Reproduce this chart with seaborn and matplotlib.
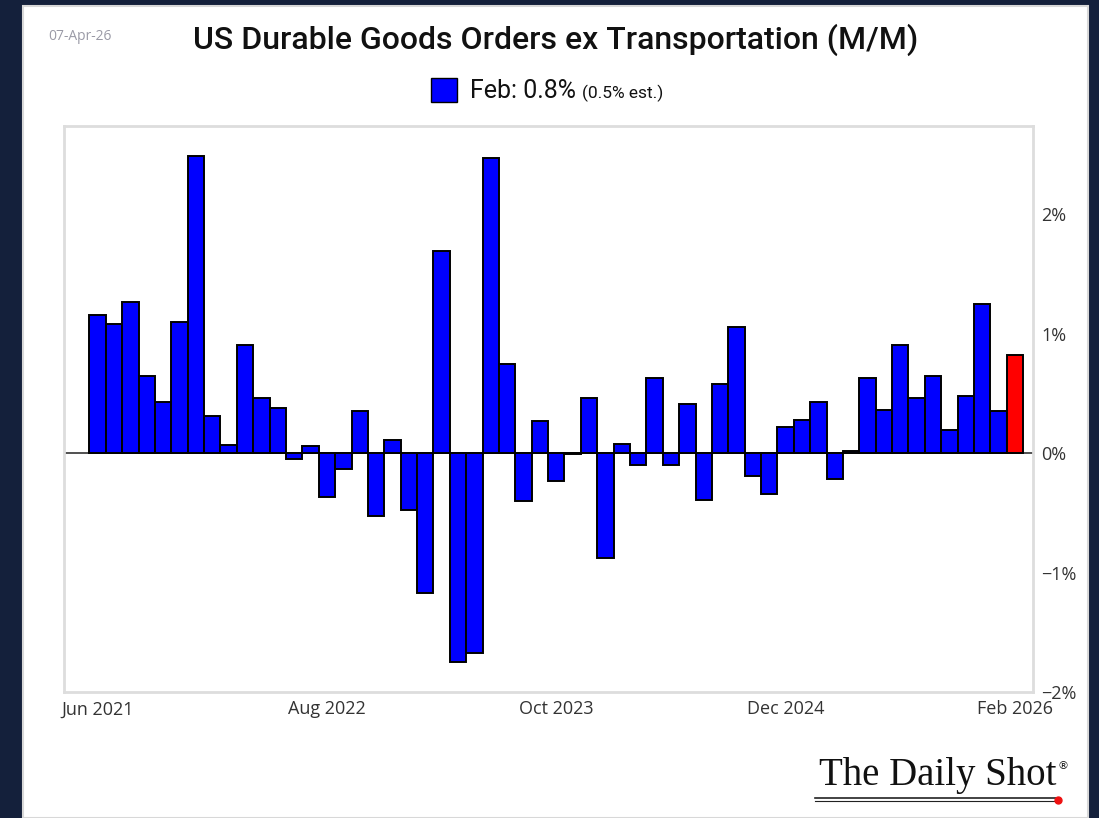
import numpy as np
import pandas as pd
import matplotlib
matplotlib.use("Agg")
import matplotlib.pyplot as plt
import seaborn as sns
from matplotlib.patches import Rectangle

# data (% m/m), Jun 2021 .. Feb 2026
months = pd.date_range("2021-06-01", "2026-02-01", freq="MS")
values = [1.16, 1.08, 1.27, 0.65, 0.43, 1.10, 2.49,
          0.31, 0.07, 0.91, 0.46, 0.38, -0.05, 0.06, -0.37, -0.13, 0.35, -0.53, 0.11,
          -0.48, -1.17, 1.69, -1.75, -1.67, 2.47, 0.75, -0.40, 0.27, -0.23, -0.01, 0.46,
          -0.88, 0.08, -0.10, 0.63, -0.10, 0.41, -0.39, 0.58, 1.06, -0.19, -0.34, 0.22,
          0.28, 0.43, -0.22, 0.02, 0.63, 0.36, 0.91, 0.46, 0.65, 0.19, 0.48, 1.25,
          0.35, 0.82]
tick_months = ["Jun 2021", "Aug 2022", "Oct 2023", "Dec 2024", "Feb 2026"]
y_ticks = [-2, -1, 0, 1, 2]

df = pd.DataFrame({"month": months.strftime("%b %Y"), "value": values})
df["kind"] = "past"
df.loc[df.index[-1], "kind"] = "latest"

W, H = 1099, 818
fig = plt.figure(figsize=(W / 100, H / 100), dpi=100)
fig.patch.set_facecolor("#14203b")

# white card
fig.patches.append(Rectangle((23 / W, 0), (1088 - 23) / W, 1 - 6 / H,
                             transform=fig.transFigure, facecolor="white",
                             edgecolor="#d8d8d8", lw=1.5, zorder=-5))

ax = fig.add_axes([64 / W, 1 - 692 / H, (1033 - 64) / W, (692 - 126) / H])
ax.set_zorder(2)
ax.set_facecolor("white")

ax.axhline(0, color="#333333", lw=1.2, zorder=1)
sns.barplot(data=df, x="month", y="value", hue="kind",
            palette={"past": "#0000ff", "latest": "#ff0000"},
            saturation=1, width=1, dodge=False, edgecolor="black", linewidth=1.4,
            legend=False, ax=ax, zorder=2)

ax.set_xlim(-2.05, len(values) - 1 + 1.1)
ax.set_ylim(-2, 2.74)

labels = list(df["month"])
ax.set_xticks([labels.index(m) for m in tick_months])
ax.set_xticklabels(tick_months)
ax.set_yticks(y_ticks)
ax.set_yticklabels([f"{v}%".replace("-", "\u2212") for v in y_ticks])
ax.yaxis.tick_right()
ax.tick_params(axis="both", length=0, labelsize=13, colors="#333333",
               labelfontfamily="Open Sans")
ax.tick_params(axis="x", pad=6)
ax.tick_params(axis="y", pad=6)
ax.set_xlabel("")
ax.set_ylabel("")
for s in ax.spines.values():
    s.set_color("#dddddd")
    s.set_linewidth(2)

# header
fig.text(80 / W, 1 - 36 / H, "07-Apr-26", fontsize=10, color="#9a9aa6",
         family="Open Sans", ha="center", va="center")
fig.text(556 / W, 1 - 40 / H, "US Durable Goods Orders ex Transportation (M/M)",
         fontsize=23, color="#111111", family="Roboto", weight="medium",
         ha="center", va="center")

# legend
fig.patches.append(Rectangle((431 / W, 1 - 102 / H), 26 / W, 24 / H,
                             transform=fig.transFigure, facecolor="#0000ff",
                             edgecolor="black", lw=1))
fig.text(470 / W, 1 - 91 / H, "Feb: 0.8%", fontsize=18, color="#111111",
         family="Roboto", ha="left", va="center")
fig.text(582 / W, 1 - 93 / H, "(0.5% est.)", fontsize=12.5, color="#111111",
         family="Roboto", ha="left", va="center")

# logo
fig.text(1056 / W, 1 - 776 / H, "The Daily Shot", fontsize=28, color="#111111",
         family="Liberation Serif", ha="right", va="center")
fig.text(1063 / W, 1 - 766 / H, "\u00ae", fontsize=8, color="#111111",
         family="DejaVu Sans", ha="center", va="center")
fig.lines.append(plt.Line2D([815 / W, 1058 / W], [1 - 798 / H, 1 - 798 / H],
                            transform=fig.transFigure, color="#222222", lw=1.2))
fig.lines.append(plt.Line2D([815 / W, 1058 / W], [1 - 801 / H, 1 - 801 / H],
                            transform=fig.transFigure, color="#222222", lw=0.8))
fig.lines.append(plt.Line2D([1058 / W], [1 - 800 / H], transform=fig.transFigure,
                            marker="o", color="#ee1111", markersize=5))

fig.savefig("out.png", dpi=100)
